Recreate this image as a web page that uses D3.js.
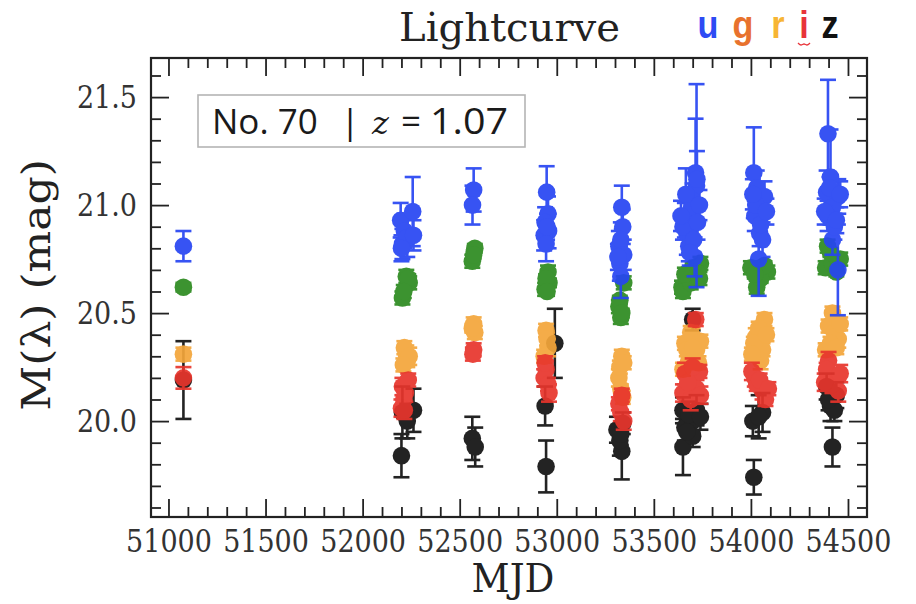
<!DOCTYPE html>
<html>
<head>
<meta charset="utf-8">
<script src="https://cdn.jsdelivr.net/npm/d3@7"></script>
<style>
  html, body { margin: 0; padding: 0; background: #ffffff; }
  svg { display: block; }
</style>
</head>
<body>
<svg id="chart" width="916" height="604"></svg>
<script>
// ---- Photometry per band: [MJD, magnitude, error] ----
const uPts = [
  [51077, 20.81, 0.07],
  [52196, 20.93, 0.08], [52205, 20.82, 0.07], [52215, 20.88, 0.08], [52230, 20.85, 0.09],
  [52258, 20.97, 0.16], [52262, 20.86, 0.07], [52200, 20.80, 0.06],
  [52572, 21.07, 0.10], [52566, 21.00, 0.09],
  [52948, 21.06, 0.12], [52955, 20.96, 0.08], [52940, 20.92, 0.07], [52958, 20.88, 0.08],
  [52935, 20.86, 0.07], [52945, 20.82, 0.08], [52950, 20.90, 0.06],
  [53335, 20.99, 0.10], [53340, 20.90, 0.08], [53320, 20.81, 0.07], [53330, 20.84, 0.08],
  [53325, 20.73, 0.08], [53345, 20.77, 0.07], [53315, 20.76, 0.06], [53330, 20.67, 0.10],
  [53720, 21.09, 0.47], [53715, 21.15, 0.25], [53722, 21.12, 0.13], [53700, 21.02, 0.08],
  [53660, 20.93, 0.08], [53690, 20.96, 0.07], [53670, 20.87, 0.10], [53680, 20.81, 0.07],
  [53710, 20.76, 0.09], [53650, 20.90, 0.06], [53695, 20.99, 0.06], [53665, 21.05, 0.12],
  [53705, 20.84, 0.06], [53640, 20.95, 0.07], [53725, 20.92, 0.08], [53735, 21.00, 0.07],
  [53685, 20.78, 0.06],
  [54015, 21.15, 0.21], [54030, 21.08, 0.08], [54070, 21.04, 0.07], [54020, 20.95, 0.07],
  [54045, 20.87, 0.06], [54060, 20.84, 0.08], [54040, 20.75, 0.17], [54025, 21.00, 0.06],
  [54050, 20.91, 0.05], [54010, 21.05, 0.07], [54080, 20.97, 0.06],
  [54397, 21.33, 0.25], [54410, 21.13, 0.22], [54390, 21.06, 0.10], [54450, 21.04, 0.08],
  [54420, 20.99, 0.06], [54395, 20.95, 0.07], [54420, 20.84, 0.07], [54448, 20.70, 0.21],
  [54430, 20.90, 0.06], [54405, 21.08, 0.05], [54380, 20.97, 0.06], [54440, 20.93, 0.06],
  [54460, 21.05, 0.06]
];
const gPts = [
  [51077, 20.62, 0.02],
  [52225, 20.67, 0.03], [52240, 20.64, 0.03], [52205, 20.57, 0.03], [52235, 20.66, 0.02], [52212, 20.60, 0.03],
  [52578, 20.80, 0.02], [52565, 20.74, 0.03], [52572, 20.77, 0.02],
  [52955, 20.69, 0.03], [52940, 20.61, 0.03], [52960, 20.64, 0.02], [52945, 20.66, 0.02], [52950, 20.60, 0.02],
  [53345, 20.64, 0.03], [53320, 20.53, 0.03], [53330, 20.48, 0.03], [53325, 20.56, 0.02], [53335, 20.50, 0.02],
  [53740, 20.73, 0.03], [53645, 20.62, 0.03], [53670, 20.65, 0.03], [53720, 20.69, 0.02],
  [53650, 20.60, 0.03], [53700, 20.71, 0.02], [53690, 20.64, 0.03], [53660, 20.68, 0.03],
  [53735, 20.66, 0.03],
  [54000, 20.71, 0.03], [54085, 20.69, 0.03], [54030, 20.62, 0.03], [54050, 20.66, 0.02],
  [54070, 20.72, 0.02], [54020, 20.68, 0.02],
  [54395, 20.81, 0.03], [54460, 20.75, 0.03], [54385, 20.71, 0.03], [54420, 20.73, 0.02],
  [54440, 20.69, 0.02], [54410, 20.78, 0.02]
];
const rPts = [
  [51077, 20.31, 0.03],
  [52225, 20.31, 0.04], [52230, 20.28, 0.03], [52215, 20.34, 0.03], [52240, 20.30, 0.04], [52210, 20.26, 0.03],
  [52572, 20.45, 0.03], [52578, 20.41, 0.03], [52565, 20.43, 0.02],
  [52945, 20.42, 0.03], [52955, 20.34, 0.04], [52935, 20.30, 0.03], [52950, 20.38, 0.03],
  [53335, 20.30, 0.03], [53320, 20.20, 0.04], [53340, 20.11, 0.03], [53325, 20.25, 0.03],
  [53330, 20.15, 0.02], [53345, 20.27, 0.03],
  [53700, 20.39, 0.04], [53720, 20.33, 0.04], [53660, 20.36, 0.03], [53690, 20.41, 0.03],
  [53650, 20.24, 0.03], [53710, 20.30, 0.03], [53740, 20.37, 0.03], [53680, 20.28, 0.03],
  [53670, 20.33, 0.03], [53730, 20.27, 0.03], [53700, 20.34, 0.03],
  [54070, 20.47, 0.03], [54025, 20.39, 0.04], [54060, 20.33, 0.03], [54050, 20.28, 0.04],
  [54040, 20.43, 0.03], [54015, 20.36, 0.03], [54080, 20.40, 0.03], [54005, 20.31, 0.03],
  [54420, 20.50, 0.03], [54400, 20.44, 0.03], [54450, 20.38, 0.04], [54385, 20.33, 0.03],
  [54430, 20.41, 0.03], [54410, 20.36, 0.03], [54460, 20.45, 0.03], [54440, 20.34, 0.03]
];
const iPts = [
  [51077, 20.20, 0.05],
  [52205, 20.16, 0.04], [52212, 20.10, 0.05], [52220, 20.13, 0.04], [52200, 20.06, 0.04],
  [52235, 20.19, 0.03], [52215, 20.05, 0.04],
  [52572, 20.33, 0.03], [52568, 20.31, 0.03],
  [52945, 20.24, 0.04], [52960, 20.13, 0.04], [52935, 20.20, 0.04], [52955, 20.17, 0.03], [52940, 20.27, 0.03],
  [53330, 20.04, 0.04], [53345, 20.00, 0.04], [53320, 20.08, 0.03], [53335, 20.12, 0.03],
  [53660, 20.22, 0.05], [53700, 20.19, 0.04], [53720, 20.15, 0.04], [53650, 20.13, 0.04],
  [53690, 20.10, 0.05], [53735, 20.23, 0.03], [53716, 20.47, 0.03], [53675, 20.18, 0.04],
  [53740, 20.12, 0.04], [53700, 20.25, 0.04],
  [54020, 20.20, 0.04], [54060, 20.14, 0.04], [54030, 20.17, 0.03], [54005, 20.23, 0.04], [54075, 20.10, 0.03],
  [54045, 20.19, 0.03], [54090, 20.15, 0.03],
  [54400, 20.28, 0.04], [54440, 20.20, 0.04], [54450, 20.14, 0.05], [54390, 20.24, 0.03], [54420, 20.17, 0.04],
  [54460, 20.22, 0.04], [54380, 20.18, 0.04]
];
const zPts = [
  [51077, 20.19, 0.18],
  [52262, 20.05, 0.10], [52205, 20.04, 0.12], [52200, 19.84, 0.10], [52230, 20.00, 0.08],
  [52565, 19.92, 0.10], [52580, 19.88, 0.09],
  [52990, 20.36, 0.16], [52940, 20.07, 0.09], [52945, 19.79, 0.12],
  [53310, 19.96, 0.06], [53335, 19.86, 0.13], [53325, 19.91, 0.07], [53340, 19.99, 0.05], [53330, 19.94, 0.05],
  [53650, 20.05, 0.06], [53720, 20.05, 0.07], [53660, 19.97, 0.06], [53650, 19.88, 0.13],
  [53700, 20.00, 0.05], [53680, 20.03, 0.06], [53700, 19.93, 0.05], [53700, 20.47, 0.05],
  [53740, 20.02, 0.06], [53670, 19.95, 0.05],
  [54010, 20.00, 0.07], [54060, 20.04, 0.09], [54015, 19.74, 0.08], [54040, 20.02, 0.10],
  [54390, 20.16, 0.06], [54410, 20.07, 0.07], [54430, 20.05, 0.05], [54420, 19.88, 0.09],
  [54440, 20.12, 0.06], [54400, 20.10, 0.05]
];

// ---- Axis ticks ----
const xMajorTicks = [51000, 51500, 52000, 52500, 53000, 53500, 54000, 54500];
const xMinorTicks = d3.range(51000, 54600, 100).filter(v => v % 500 !== 0);
const yMajorTicks = [20.0, 20.5, 21.0, 21.5];
const yMinorTicks = d3.range(196, 217, 1).map(v => v / 10).filter(v => Math.round(v * 10) % 5 !== 0);

// ---- Legend letters and box text ----
const bandLetters = ["u", "g", "r", "i", "z"];
const letterColors = ["#2d4bf4", "#e8722d", "#f7b534", "#e8343a", "#111111"];
const letterCenters = [708, 743, 778, 804, 830];
const titleText = "Lightcurve";
const objectLabel = "No. 70";
const redshiftValue = "1.07";

// Plot order and marker colours (u..z)
const bands = [
  { key: "z", pts: zPts, color: "#111111" },
  { key: "r", pts: rPts, color: "#f4a63a" },
  { key: "i", pts: iPts, color: "#e8352c" },
  { key: "g", pts: gPts, color: "#2c8a1f" },
  { key: "u", pts: uPts, color: "#2745f2" }
];

const svg = d3.select("#chart");
svg.append("rect").attr("width", 916).attr("height", 604).attr("fill", "#ffffff");

const L = 151, R = 867, T = 58, B = 517;
const x = d3.scaleLinear().domain([50910, 54598]).range([L, R]);
const y = d3.scaleLinear().domain([19.556, 21.681]).range([B, T]);

const serif = "'DejaVu Serif', serif";
const SX = 0.87;   // horizontal squeeze of the axis typography

// ---- data ----
const plot = svg.append("g");
const cap = 8, rad = 8.8;
bands.forEach(b => {
  const g = plot.append("g").attr("class", "band-" + b.key).attr("opacity", 0.92);
  g.selectAll("line.bar").data(b.pts).join("line")
    .attr("x1", d => x(d[0])).attr("x2", d => x(d[0]))
    .attr("y1", d => y(d[1] + d[2])).attr("y2", d => y(d[1] - d[2]))
    .attr("stroke", b.color).attr("stroke-width", 2.6);
  g.selectAll("line.capTop").data(b.pts).join("line")
    .attr("x1", d => x(d[0]) - cap).attr("x2", d => x(d[0]) + cap)
    .attr("y1", d => y(d[1] + d[2])).attr("y2", d => y(d[1] + d[2]))
    .attr("stroke", b.color).attr("stroke-width", 2.6);
  g.selectAll("line.capBot").data(b.pts).join("line")
    .attr("x1", d => x(d[0]) - cap).attr("x2", d => x(d[0]) + cap)
    .attr("y1", d => y(d[1] - d[2])).attr("y2", d => y(d[1] - d[2]))
    .attr("stroke", b.color).attr("stroke-width", 2.6);
  g.selectAll("circle").data(b.pts).join("circle")
    .attr("cx", d => x(d[0])).attr("cy", d => y(d[1])).attr("r", rad)
    .attr("fill", b.color);
});

// ---- axes (inward ticks on all four sides) ----
function styleAxis(g) {
  g.select(".domain").remove();
  g.selectAll(".tick line").attr("stroke", "#222").attr("stroke-width", 1.8);
}
const major = 18, minor = 10;
// bottom
svg.append("g").attr("transform", `translate(0,${B})`)
  .call(d3.axisBottom(x).tickValues(xMinorTicks).tickSize(-minor).tickFormat(""))
  .call(styleAxis);
const xAx = svg.append("g").attr("transform", `translate(0,${B})`)
  .call(d3.axisBottom(x).tickValues(xMajorTicks).tickSize(-major).tickPadding(13).tickFormat(d3.format("d")))
  .call(styleAxis);
xAx.selectAll(".tick text")
  .attr("font-family", serif).attr("font-size", 31).attr("fill", "#333")
  .attr("transform", `scale(${SX},1)`);
// top
svg.append("g").attr("transform", `translate(0,${T})`)
  .call(d3.axisTop(x).tickValues(xMinorTicks).tickSize(-minor).tickFormat(""))
  .call(styleAxis);
svg.append("g").attr("transform", `translate(0,${T})`)
  .call(d3.axisTop(x).tickValues(xMajorTicks).tickSize(-major).tickFormat(""))
  .call(styleAxis);
// left
svg.append("g").attr("transform", `translate(${L},0)`)
  .call(d3.axisLeft(y).tickValues(yMinorTicks).tickSize(-minor).tickFormat(""))
  .call(styleAxis);
const yAx = svg.append("g").attr("transform", `translate(${L},0)`)
  .call(d3.axisLeft(y).tickValues(yMajorTicks).tickSize(-major).tickPadding(0).tickFormat(d3.format(".1f")))
  .call(styleAxis);
yAx.selectAll(".tick text")
  .attr("font-family", serif).attr("font-size", 31).attr("fill", "#333")
  .attr("x", 0)
  .attr("transform", `translate(-14,0) scale(${SX},1)`);
// right
svg.append("g").attr("transform", `translate(${R},0)`)
  .call(d3.axisRight(y).tickValues(yMinorTicks).tickSize(-minor).tickFormat(""))
  .call(styleAxis);
svg.append("g").attr("transform", `translate(${R},0)`)
  .call(d3.axisRight(y).tickValues(yMajorTicks).tickSize(-major).tickFormat(""))
  .call(styleAxis);

// frame
svg.append("rect").attr("x", L).attr("y", T).attr("width", R - L).attr("height", B - T)
  .attr("fill", "none").attr("stroke", "#222").attr("stroke-width", 2.2);

// axis titles
svg.append("text")
  .attr("transform", `translate(513,592) scale(0.93,1)`)
  .attr("text-anchor", "middle").attr("font-family", serif).attr("font-size", 40)
  .attr("fill", "#222").text("MJD");
svg.append("text")
  .attr("transform", `translate(50,285) rotate(-90) scale(1,${SX})`)
  .attr("text-anchor", "middle").attr("font-family", serif).attr("font-size", 44)
  .attr("fill", "#222").text("M(λ) (mag)");

// ---- title and band letters ----
svg.append("text").attr("x", 399).attr("y", 41)
  .attr("font-family", serif).attr("font-size", 40).attr("fill", "#222")
  .attr("textLength", 221).attr("lengthAdjust", "spacingAndGlyphs")
  .text(titleText);
bandLetters.forEach((ch, k) => {
  svg.append("text")
    .attr("transform", `translate(${letterCenters[k]},38) scale(0.9,1)`)
    .attr("text-anchor", "middle")
    .attr("font-family", "'Liberation Sans', Arial, sans-serif").attr("font-weight", "bold")
    .attr("font-size", 38).attr("fill", letterColors[k]).text(ch);
});
// wavy underline below the "i"
const wave = d3.range(0, 5).map(k => [798 + k * 3, 43 + (k % 2 ? 3 : 0)]);
svg.append("path").attr("d", d3.line().curve(d3.curveBasis)(wave))
  .attr("fill", "none").attr("stroke", "#e8343a").attr("stroke-width", 1.3);

// ---- label box ----
svg.append("rect").attr("x", 198).attr("y", 95).attr("width", 327).attr("height", 52)
  .attr("fill", "#ffffff").attr("stroke", "#b5b5b5").attr("stroke-width", 1.6);
const sans = "'Open Sans', 'Noto Sans', sans-serif";
svg.append("text").attr("x", 212).attr("y", 134)
  .attr("font-family", sans).attr("font-size", 35).attr("fill", "#1a1a1a").text(objectLabel);
svg.append("text").attr("x", 350).attr("y", 134).attr("text-anchor", "middle")
  .attr("font-family", sans).attr("font-size", 35).attr("fill", "#1a1a1a").text("|");
svg.append("text").attr("x", 372).attr("y", 134)
  .attr("font-family", serif).attr("font-style", "italic").attr("font-size", 32).attr("fill", "#1a1a1a").text("z");
svg.append("text").attr("x", 401).attr("y", 134)
  .attr("font-family", sans).attr("font-size", 35).attr("fill", "#1a1a1a").text("=");
svg.append("text").attr("x", 430).attr("y", 134)
  .attr("font-family", sans).attr("font-size", 36).attr("fill", "#1a1a1a")
  .attr("textLength", 78).attr("lengthAdjust", "spacingAndGlyphs").text(redshiftValue);
</script>
</body>
</html>
